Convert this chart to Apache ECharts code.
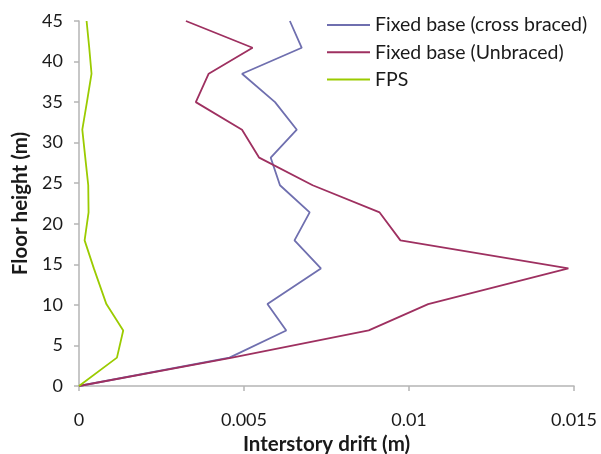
<!DOCTYPE html>
<html>
<head>
<meta charset="utf-8">
<script src="https://cdn.jsdelivr.net/npm/echarts@6/dist/echarts.min.js"></script>
<style>
html,body{margin:0;padding:0;background:#fff;}
#chart{width:601px;height:454px;}
</style>
</head>
<body>
<div id="chart"></div>
<script>
// Floor heights (m)
var heights = [0, 3.5, 6.85, 10.1, 14.5, 17.95, 21.4, 24.75, 28.15, 31.6, 35.0, 38.5, 41.7, 45.0];
// Interstory drift (m)
var crossBraced = [0, 0.00456, 0.00628, 0.00571, 0.00733, 0.00653, 0.00699, 0.00609, 0.00581, 0.00660, 0.00594, 0.00494, 0.00675, 0.00639];
var unbraced    = [0, 0.00464, 0.00878, 0.01058, 0.01483, 0.00974, 0.00911, 0.00708, 0.00546, 0.00494, 0.00354, 0.00393, 0.00526, 0.00324];
var fps         = [0, 0.00115, 0.00134, 0.00083, 0.00045, 0.00017, 0.00029, 0.00028, 0.00019, 0.00010, 0.00024, 0.00038, 0.00031, 0.00023];
var seriesNames = ['Fixed base (cross braced)', 'Fixed base (Unbraced)', 'FPS'];
var xTickLabels = ['0', '0.005', '0.01', '0.015'];
var yTickLabels = ['0', '5', '10', '15', '20', '25', '30', '35', '40', '45'];

function pairs(xs){ return xs.map(function(x,i){ return [x, heights[i]]; }); }

var font = 'Lato, "Open Sans", sans-serif';
var colors = ['#6F6FAF', '#9E3060', '#9BCB00'];
var chart = echarts.init(document.getElementById('chart'), null, {renderer:'canvas'});
var axisLineStyle = {color:'#B5B5B5', width:1.5};
chart.setOption({
  animation:false,
  color: colors,
  grid:{left:79, right:27, top:21, bottom:68, containLabel:false, outerBoundsMode:'none'},
  legend:{
    orient:'vertical', left:322, top:10,
    itemWidth:43, itemHeight:2, itemGap:7.3,
    icon:'rect',
    textStyle:{fontFamily:font, fontSize:19.5, color:'#1a1a1a', lineHeight:20},
    data: seriesNames
  },
  xAxis:{
    type:'value', min:0, max:0.015, interval:0.005,
    name:'Interstory drift (m)', nameLocation:'middle', nameGap:48,
    nameTextStyle:{fontFamily:font, fontSize:20.5, fontWeight:'bold', color:'#1a1a1a'},
    axisLine:{show:true, lineStyle:axisLineStyle},
    axisTick:{show:true, length:5, lineStyle:axisLineStyle},
    splitLine:{show:false},
    axisLabel:{fontFamily:font, fontSize:18, color:'#1a1a1a', margin:25,
      formatter:function(v){ return xTickLabels[Math.round(v/0.005)]; }}
  },
  yAxis:{
    type:'value', min:0, max:45, interval:5,
    name:'Floor height (m)', nameLocation:'middle', nameGap:47, nameRotate:90,
    nameTextStyle:{fontFamily:font, fontSize:20.5, fontWeight:'bold', color:'#1a1a1a'},
    axisLine:{show:true, lineStyle:axisLineStyle},
    axisTick:{show:true, length:5, lineStyle:axisLineStyle},
    splitLine:{show:false},
    axisLabel:{fontFamily:font, fontSize:18, color:'#1a1a1a', margin:16,
      formatter:function(v){ return yTickLabels[Math.round(v/5)]; }}
  },
  series:[
    {name:seriesNames[0], type:'line', data:pairs(crossBraced), showSymbol:false, lineStyle:{width:1.8, color:colors[0]}},
    {name:seriesNames[1], type:'line', data:pairs(unbraced), showSymbol:false, lineStyle:{width:1.8, color:colors[1]}},
    {name:seriesNames[2], type:'line', data:pairs(fps), showSymbol:false, lineStyle:{width:1.8, color:colors[2]}}
  ]
});
</script>
</body>
</html>
